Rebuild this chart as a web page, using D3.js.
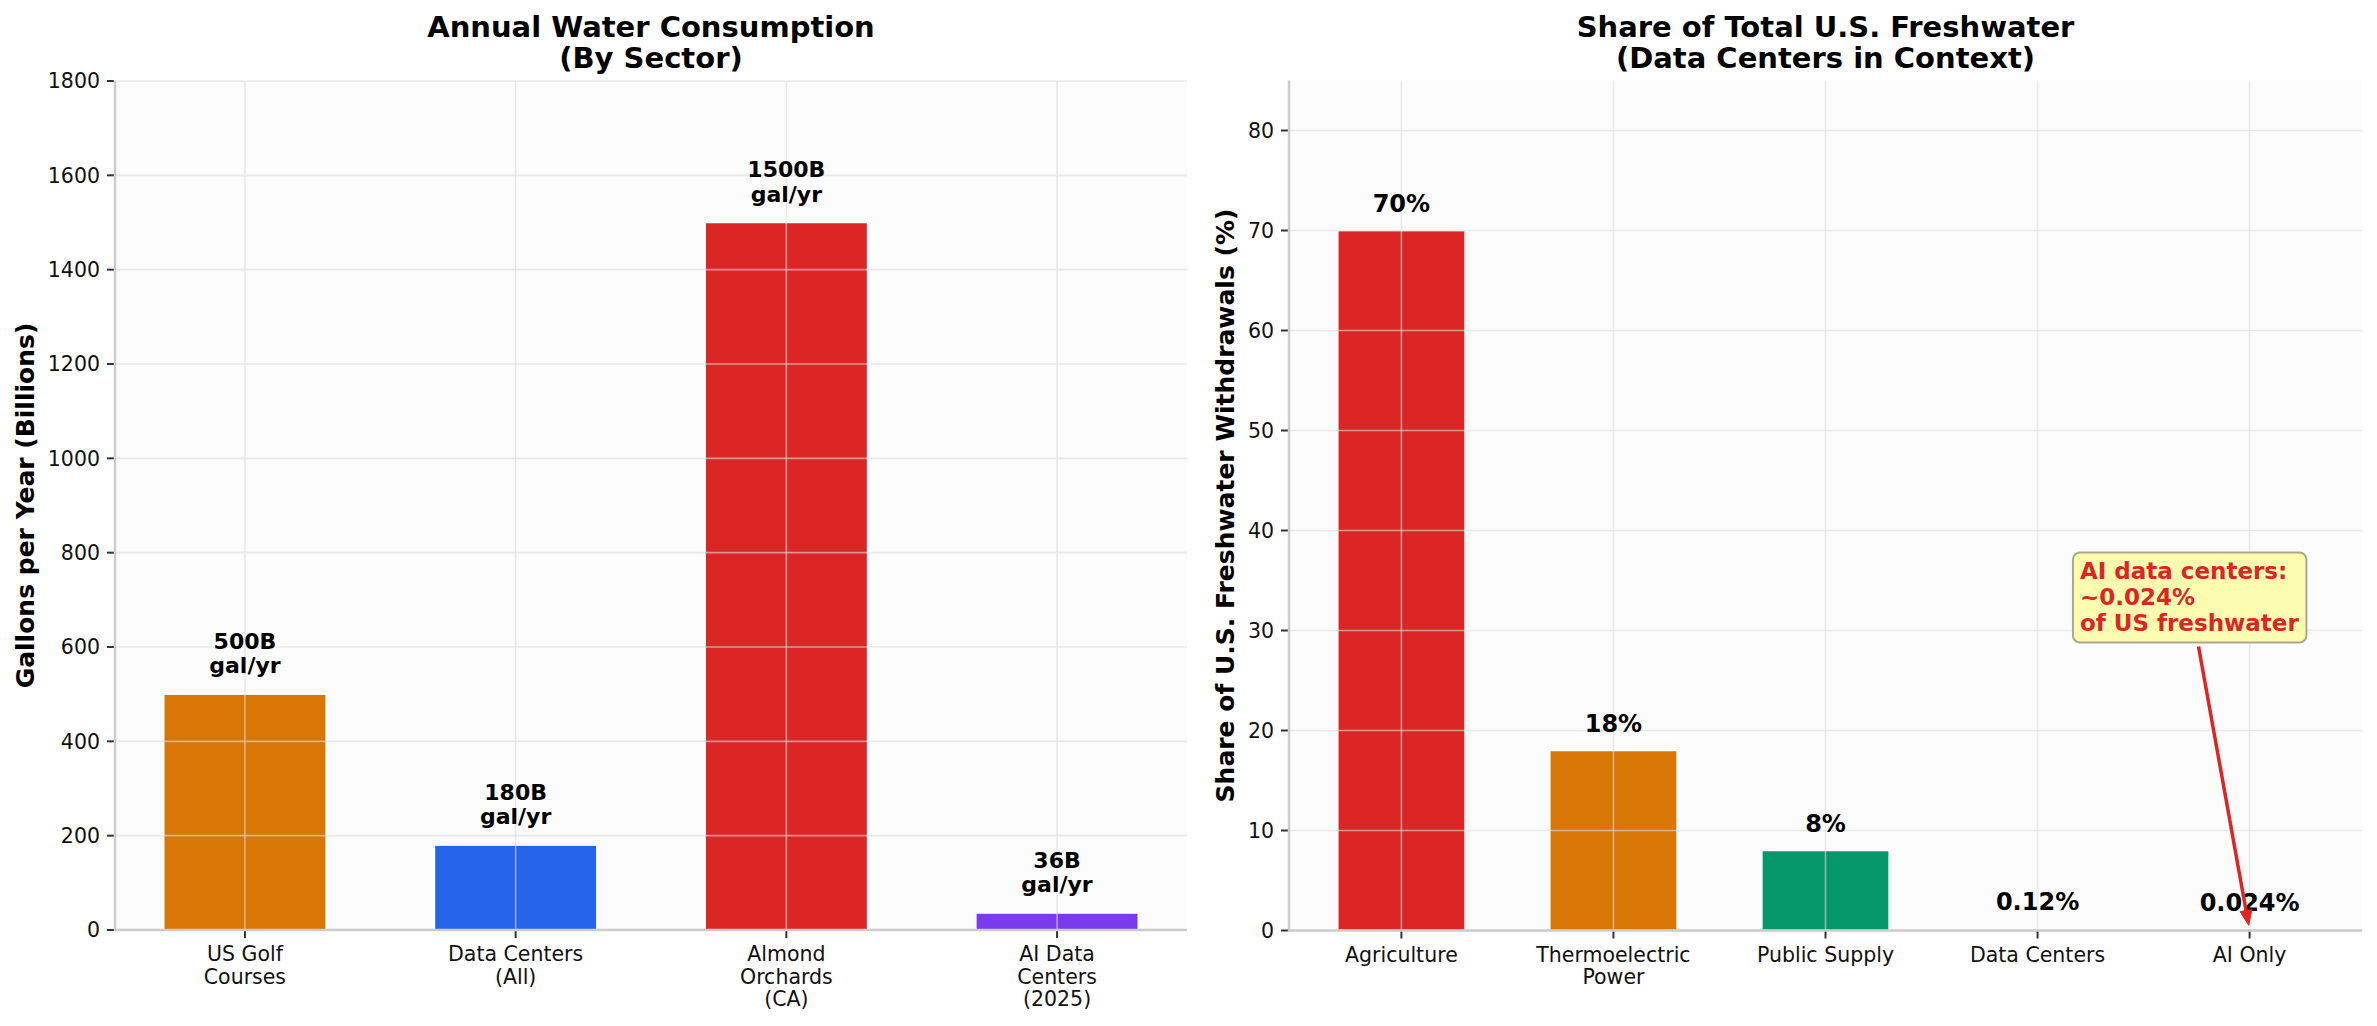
<!DOCTYPE html>
<html><head><meta charset="utf-8">
<script src="https://cdn.jsdelivr.net/npm/d3@7"></script>
<style>
body{margin:0;background:#fff;}
svg{display:block;font-family:"DejaVu Sans",sans-serif;}
</style>
</head><body>
<svg id="chart" width="2377" height="1026"></svg>
<script>
// ---------- data ----------
const sectorCategories = ["US Golf\nCourses", "Data Centers\n(All)", "Almond\nOrchards\n(CA)", "AI Data\nCenters\n(2025)"];
const sectorValues = [500, 180, 1500, 36];
const sectorLabels = ["500B\ngal/yr", "180B\ngal/yr", "1500B\ngal/yr", "36B\ngal/yr"];
const sectorColors = ["#d97706", "#2563eb", "#dc2626", "#7c3aed"];
const sectorTicks = [0, 200, 400, 600, 800, 1000, 1200, 1400, 1600, 1800];

const shareCategories = ["Agriculture", "Thermoelectric\nPower", "Public Supply", "Data Centers", "AI Only"];
const shareValues = [70, 18, 8, 0.12, 0.024];
const shareLabels = ["70%", "18%", "8%", "0.12%", "0.024%"];
const shareColors = ["#dc2626", "#d97706", "#059669", "#2563eb", "#7c3aed"];
const shareTicks = [0, 10, 20, 30, 40, 50, 60, 70, 80];

const annotationLines = ["AI data centers:", "~0.024%", "of US freshwater"];
const annotationPoint = [4, 0.024];
const annotationTextPos = [3.2, 30];

// ---------- drawing ----------
const svg = d3.select("#chart");

function panel(cfg) {
  const g = svg.append("g");
  const x = d3.scaleLinear().domain(cfg.xDomain).range([cfg.x0, cfg.x1]);
  const y = d3.scaleLinear().domain(cfg.yDomain).range([cfg.yBottom, cfg.yTop]);
  const idx = cfg.categories.map((d, i) => i);
  const bw = 0.6;

  // axes background
  g.append("rect").attr("x", cfg.x0).attr("y", cfg.yTop)
    .attr("width", cfg.x1 - cfg.x0).attr("height", cfg.yBottom - cfg.yTop)
    .attr("fill", "#fcfcfc");

  // bars
  g.selectAll("rect.bar").data(cfg.values).enter().append("rect")
    .attr("class", "bar")
    .attr("x", (d, i) => x(i - bw / 2))
    .attr("width", (d, i) => x(i + bw / 2) - x(i - bw / 2))
    .attr("y", d => y(d))
    .attr("height", d => y(0) - y(d))
    .attr("fill", (d, i) => cfg.colors[i])
    .attr("stroke", "#ffffff").attr("stroke-width", 1.5);

  // grid (drawn over bars)
  const grid = g.append("g").attr("stroke", "#dcdcdc").attr("stroke-opacity", 0.6).attr("stroke-width", 1.6);
  cfg.ticks.forEach(t => grid.append("line")
    .attr("x1", cfg.x0).attr("x2", cfg.x1).attr("y1", y(t)).attr("y2", y(t)));
  idx.forEach(i => grid.append("line")
    .attr("x1", x(i)).attr("x2", x(i)).attr("y1", cfg.yTop).attr("y2", cfg.yBottom));

  // spines
  g.append("line").attr("x1", cfg.x0).attr("x2", cfg.x0).attr("y1", cfg.yTop).attr("y2", cfg.yBottom + 1.2)
    .attr("stroke", "#cccccc").attr("stroke-width", 2.5);
  g.append("line").attr("x1", cfg.x0 - 1.2).attr("x2", cfg.x1).attr("y1", cfg.yBottom).attr("y2", cfg.yBottom)
    .attr("stroke", "#cccccc").attr("stroke-width", 2.5);

  // y ticks
  cfg.ticks.forEach(t => {
    g.append("line").attr("x1", cfg.x0 - 8).attr("x2", cfg.x0 - 1.2).attr("y1", y(t)).attr("y2", y(t))
      .attr("stroke", "#333").attr("stroke-width", 2);
    g.append("text").attr("x", cfg.x0 - 15).attr("y", y(t)).attr("dy", "0.36em")
      .attr("text-anchor", "end").attr("font-size", 20.5).attr("fill", "#111").text(t);
  });
  // x ticks
  idx.forEach(i => {
    g.append("line").attr("x1", x(i)).attr("x2", x(i)).attr("y1", cfg.yBottom + 1.2).attr("y2", cfg.yBottom + 8)
      .attr("stroke", "#333").attr("stroke-width", 2);
    const lines = cfg.categories[i].split("\n");
    const t = g.append("text").attr("text-anchor", "middle").attr("font-size", 20.5).attr("fill", "#111");
    lines.forEach((l, k) => t.append("tspan").attr("x", x(i)).attr("y", cfg.yBottom + 31 + k * 22.5).text(l));
  });

  // value labels
  idx.forEach(i => {
    const lines = cfg.labels[i].split("\n");
    const n = lines.length;
    const base = y(cfg.values[i]) - cfg.labelGap;
    const t = g.append("text").attr("text-anchor", "middle").attr("font-size", cfg.labelSize)
      .attr("font-weight", "bold").attr("fill", "#000");
    lines.forEach((l, k) => t.append("tspan").attr("x", x(i))
      .attr("y", base - (n - 1 - k) * cfg.labelLine).text(l));
  });

  // title
  const cx = (cfg.x0 + cfg.x1) / 2;
  const tt = g.append("text").attr("text-anchor", "middle").attr("font-size", 29)
    .attr("font-weight", "bold").attr("fill", "#000");
  cfg.title.forEach((l, k) => tt.append("tspan").attr("x", cx).attr("y", 37 + k * 31).text(l));

  // y label
  const cy = (cfg.yTop + cfg.yBottom) / 2;
  g.append("text").attr("transform", `translate(${cfg.ylabelX},${cy}) rotate(-90)`)
    .attr("text-anchor", "middle").attr("dy", "0.36em").attr("font-size", 25)
    .attr("font-weight", "bold").attr("fill", "#000").text(cfg.ylabel);

  return {g, x, y};
}

panel({
  x0: 115, x1: 1187, yTop: 81, yBottom: 930,
  xDomain: [-0.48, 3.48], yDomain: [0, 1800],
  categories: sectorCategories, values: sectorValues, labels: sectorLabels,
  colors: sectorColors, ticks: sectorTicks,
  labelSize: 22, labelLine: 24.5, labelGap: 21,
  title: ["Annual Water Consumption", "(By Sector)"],
  ylabel: "Gallons per Year (Billions)", ylabelX: 25
});

const right = panel({
  x0: 1289, x1: 2362, yTop: 80.5, yBottom: 930.5,
  xDomain: [-0.53, 4.53], yDomain: [0, 85],
  categories: shareCategories, values: shareValues, labels: shareLabels,
  colors: shareColors, ticks: shareTicks,
  labelSize: 24, labelLine: 26, labelGap: 19,
  title: ["Share of Total U.S. Freshwater", "(Data Centers in Context)"],
  ylabel: "Share of U.S. Freshwater Withdrawals (%)", ylabelX: 1225
});

// ---------- annotation ----------
(function () {
  const {g, x, y} = right;
  const tx = x(annotationTextPos[0]);
  const ty = y(annotationTextPos[1]);
  const lh = 26;
  const boxG = g.append("g");
  const t = g.append("text").attr("font-size", 23).attr("font-weight", "bold").attr("fill", "#dc2626");
  const n = annotationLines.length;
  annotationLines.forEach((l, k) => t.append("tspan").attr("x", tx).attr("y", ty - (n - 1 - k) * lh).text(l));
  const bb = t.node().getBBox();
  const pad = 7;
  const bx = bb.x - pad, by = bb.y - pad + 2, bwid = bb.width + 2 * pad, bh = bb.height + 2 * pad - 2;
  boxG.append("rect").attr("x", bx).attr("y", by).attr("width", bwid).attr("height", bh)
    .attr("rx", 7).attr("ry", 7)
    .attr("fill", "#fcfcb0").attr("stroke", "#a9a98e").attr("stroke-width", 2);

  // arrow from box center toward the point, clipped at box edge
  const cx = bx + bwid / 2, cy = by + bh / 2;
  const px = x(annotationPoint[0]), py = y(annotationPoint[1]);
  const dx = px - cx, dy = py - cy;
  const len = Math.hypot(dx, dy);
  const ux = dx / len, uy = dy / len;
  let s = Infinity;
  if (dy > 0) s = Math.min(s, (by + bh - cy) / dy);
  if (dy < 0) s = Math.min(s, (by - cy) / dy);
  if (dx > 0) s = Math.min(s, (bx + bwid - cx) / dx);
  if (dx < 0) s = Math.min(s, (bx - cx) / dx);
  const sx = cx + dx * s + ux * 4, sy = cy + dy * s + uy * 4;
  const ex = px - ux * 5, ey = py - uy * 5;
  const hl = 15, hw = 6;
  const bxp = ex - ux * hl, byp = ey - uy * hl;
  g.append("line").attr("x1", sx).attr("y1", sy).attr("x2", bxp).attr("y2", byp)
    .attr("stroke", "#dc2626").attr("stroke-width", 3.5);
  g.append("path")
    .attr("d", `M${ex},${ey}L${bxp - uy * hw},${byp + ux * hw}L${bxp + uy * hw},${byp - ux * hw}Z`)
    .attr("fill", "#dc2626").attr("stroke", "#dc2626").attr("stroke-width", 1);
})();
</script>
</body></html>
